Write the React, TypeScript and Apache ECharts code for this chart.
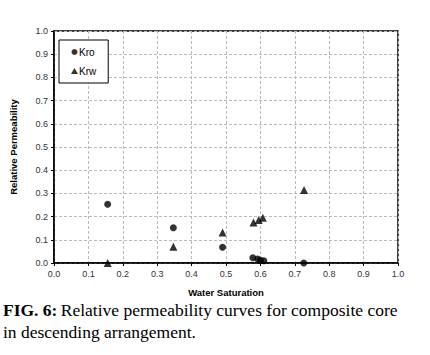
import React, { useEffect, useRef } from "react";
import * as echarts from "echarts";

const kroSw = [0.156, 0.347, 0.49, 0.578, 0.592, 0.6, 0.61, 0.726];
const kroVal = [0.253, 0.152, 0.068, 0.023, 0.017, 0.012, 0.01, 0.0];
const krwSw = [0.156, 0.347, 0.49, 0.58, 0.595, 0.607, 0.727];
const krwVal = [0.0, 0.07, 0.132, 0.175, 0.185, 0.195, 0.315];
const xTicks = { min: 0, max: 1, interval: 0.1 };
const yTicks = { min: 0, max: 1, interval: 0.1 };

export default function App() {
  const ref = useRef<HTMLDivElement>(null);
  useEffect(() => {
    const chart = echarts.init(ref.current!, undefined, { renderer: "svg" });
    const font = "Liberation Sans, Arial, sans-serif";
    const serif = "Liberation Serif, Times New Roman, serif";
    chart.setOption({
      animation: false,
      backgroundColor: "#fff",
      grid: { left: 47, top: 31, right: 32, bottom: 92, show: true, borderColor: "#000", borderWidth: 1.5, backgroundColor: "transparent" },
      legend: {
        orient: "vertical",
        left: 59,
        top: 40,
        width: 51,
        height: 42,
        padding: [7, 12, 7, 12],
        itemGap: 9,
        itemWidth: 7,
        itemHeight: 6,
        borderColor: "#000",
        borderWidth: 1,
        backgroundColor: "#fff",
        textStyle: { fontFamily: font, fontSize: 10, color: "#000", padding: [0, 0, 0, -4] },
        data: [
          { name: "Kro", icon: "circle" },
          { name: "Krw", icon: "triangle" },
        ],
      },
      xAxis: {
        type: "value",
        ...xTicks,
        name: "Water Saturation",
        nameLocation: "middle",
        nameGap: 24,
        nameTextStyle: { fontFamily: font, fontSize: 9.5, fontWeight: "bold", color: "#000" },
        axisLine: { show: true, onZero: false, lineStyle: { color: "#000", width: 1.5 } },
        axisTick: { show: true, inside: false, length: 3, lineStyle: { color: "#000" } },
        axisLabel: { fontFamily: font, fontSize: 9, color: "#333", margin: 6, formatter: (v: number) => v.toFixed(1) },
        splitLine: { show: true, lineStyle: { color: "#bbb", type: [3, 2], width: 1 } },
      },
      yAxis: {
        type: "value",
        ...yTicks,
        name: "Relative Permeability",
        nameLocation: "middle",
        nameGap: 36,
        nameTextStyle: { fontFamily: font, fontSize: 9.5, fontWeight: "bold", color: "#000" },
        axisLine: { show: true, onZero: false, lineStyle: { color: "#000", width: 1.5 } },
        axisTick: { show: true, inside: false, length: 3, lineStyle: { color: "#000" } },
        axisLabel: { fontFamily: font, fontSize: 9, color: "#333", margin: 6, formatter: (v: number) => v.toFixed(1) },
        splitLine: { show: true, lineStyle: { color: "#bbb", type: [3, 2], width: 1 } },
      },
      series: [
        {
          name: "Kro",
          type: "scatter",
          symbol: "circle",
          symbolSize: 7,
          itemStyle: { color: "#000" },
          data: kroSw.map((x, i) => [x, kroVal[i]]),
          clip: false,
        },
        {
          name: "Krw",
          type: "scatter",
          symbol: "triangle",
          symbolSize: 8,
          itemStyle: { color: "#000" },
          data: krwSw.map((x, i) => [x, krwVal[i]]),
          clip: false,
        },
      ],
      graphic: [
        {
          type: "text",
          left: 3,
          top: 301,
          style: {
            rich: {
              b: { fontFamily: serif, fontSize: 17.5, fontWeight: "bold", fill: "#000" },
              n: { fontFamily: serif, fontSize: 17.5, fill: "#000" },
            },
            text: "{b|FIG. 6:} {n|Relative permeability curves for composite core}",
          },
        },
        {
          type: "text",
          left: 3,
          top: 323,
          style: { text: "in descending arrangement.", fontFamily: serif, fontSize: 17.5, fill: "#000" },
        },
      ],
    });
    return () => chart.dispose();
  }, []);
  return <div ref={ref} style={{ position: "fixed", left: 0, top: 0, width: 430, height: 355 }} />;
}
